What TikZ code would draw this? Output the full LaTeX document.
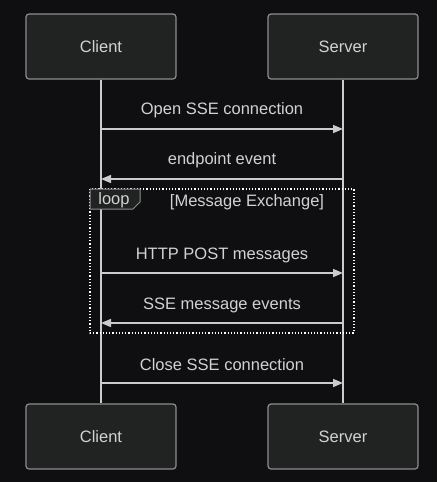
\documentclass[tikz,border=0pt]{standalone}
\usepackage{fontspec}
\setmainfont{Liberation Sans}
\usetikzlibrary{arrows.meta}

\definecolor{seqbg}{HTML}{0F0F11}
\definecolor{actorfill}{HTML}{212322}
\definecolor{actoredge}{HTML}{8C8C8C}
\definecolor{seqline}{HTML}{CCCCCC}
\definecolor{seqtext}{HTML}{D2D2D2}

\begin{document}
\begin{tikzpicture}[
  x=1pt,
  y=-1pt,
  line join=round,
  actor/.style={draw=actoredge,fill=actorfill,line width=1.2pt,rounded corners=3pt,
    minimum width=150pt,minimum height=65pt,text=seqtext,font=\fontsize{16.5}{19}\selectfont},
  lifeline/.style={draw=seqline,line width=1.4pt},
  msg/.style={draw=seqline,line width=1.4pt,-{Triangle[length=10pt,width=8pt]}},
  msglabel/.style={text=seqtext,font=\fontsize{16.5}{19}\selectfont},
  loopframe/.style={draw=white,line width=1.2pt,dotted},
  looptab/.style={draw=actoredge,fill=actorfill,line width=1pt}
]
  % Frame of the original artwork, dark page behind everything.
  \useasboundingbox (0,0) rectangle (437,482);
  \fill[seqbg] (0,0) rectangle (437,482);

  % Participants, top and bottom.
  \node[actor] (clientTop) at (101,46.5) {Client};
  \node[actor] (serverTop) at (343,46.5) {Server};
  \node[actor] (clientBot) at (101,436.5) {Client};
  \node[actor] (serverBot) at (343,436.5) {Server};

  % Lifelines between the participant boxes.
  \draw[lifeline] (clientTop) -- (clientBot);
  \draw[lifeline] (serverTop) -- (serverBot);

  % Message end points on the lifelines.
  \coordinate (openC) at (101,129);
  \coordinate (openS) at (343,129);
  \coordinate (endpC) at (101,179);
  \coordinate (endpS) at (343,179);
  \coordinate (postC) at (101,273);
  \coordinate (postS) at (343,273);
  \coordinate (evtC) at (101,323);
  \coordinate (evtS) at (343,323);
  \coordinate (closeC) at (101,383);
  \coordinate (closeS) at (343,383);

  % Loop block around the message exchange.
  \draw[loopframe] (90,189) rectangle (354,333);
  \draw[looptab] (90,189) -- (140,189) -- (140,202) -- (133,209) -- (90,209) -- cycle;
  \node[msglabel] (loopTag) at (114,200.5) {loop};
  \node[msglabel] (loopCond) at (247,202) {[Message Exchange]};

  % Messages.
  \draw[msg] (openC) -- (openS);
  \node[msglabel] (openLbl) at (222,110) {Open SSE connection};
  \draw[msg] (endpS) -- (endpC);
  \node[msglabel] (endpLbl) at (222,160) {endpoint event};
  \draw[msg] (postC) -- (postS);
  \node[msglabel] (postLbl) at (222,255) {HTTP POST messages};
  \draw[msg] (evtS) -- (evtC);
  \node[msglabel] (evtLbl) at (222,305) {SSE message events};
  \draw[msg] (closeC) -- (closeS);
  \node[msglabel] (closeLbl) at (222,365) {Close SSE connection};
\end{tikzpicture}
\end{document}
